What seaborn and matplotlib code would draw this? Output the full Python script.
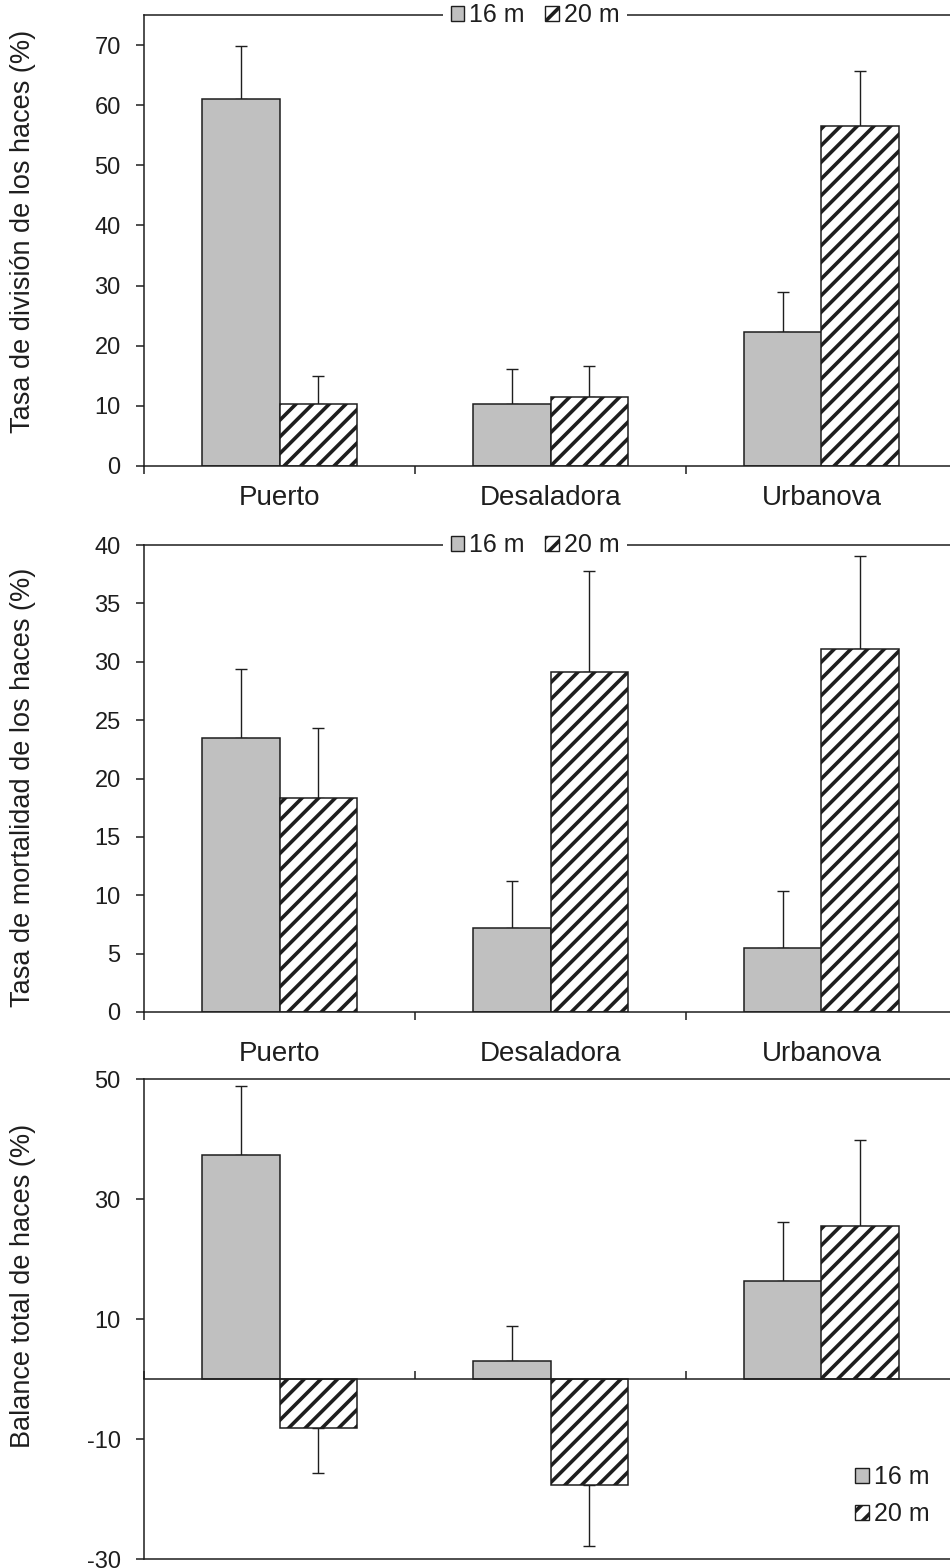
import numpy as np
import pandas as pd
import matplotlib
matplotlib.use("Agg")
import matplotlib.pyplot as plt
import seaborn as sns
from matplotlib.patches import Patch

# ---------------- data ----------------
sitios = ["Puerto", "Desaladora", "Urbanova"]
profundidades = ["16 m", "20 m"]

division_16 = [61.0, 10.3, 22.3]
division_20 = [10.3, 11.4, 56.5]
division_err_16 = [8.8, 5.8, 6.6]
division_err_20 = [4.7, 5.3, 9.2]

mortalidad_16 = [23.5, 7.2, 5.5]
mortalidad_20 = [18.3, 29.1, 31.1]
mortalidad_err_16 = [5.9, 4.0, 4.9]
mortalidad_err_20 = [6.0, 8.7, 8.0]

balance_16 = [37.3, 3.1, 16.4]
balance_20 = [-8.2, -17.6, 25.5]
balance_err_16 = [11.5, 5.8, 9.8]
balance_err_20 = [7.5, 10.3, 14.3]

ylabel_division = "Tasa de división de los haces (%)"
ylabel_mortalidad = "Tasa de mortalidad de los haces (%)"
ylabel_balance = "Balance total de haces (%)"

ticks_division = [0, 10, 20, 30, 40, 50, 60, 70]
ticks_mortalidad = [0, 5, 10, 15, 20, 25, 30, 35, 40]
ticks_balance = [-30, -10, 10, 30, 50]

# ---------------- style ----------------
sns.set_style("white")
plt.rcParams["font.family"] = ["Liberation Sans", "DejaVu Sans"]
plt.rcParams["hatch.linewidth"] = 2.6
plt.rcParams["hatch.color"] = "black"

GRAY = "#C0C0C0"
EDGE = "#1e1e1e"
TXT = "#1e1e1e"
TICKFS = 17
CATFS = 20
LABFS = 19.5
LEGFS = 18
TICKLEN = 5.8
HATCH = "//"

fig = plt.figure(figsize=(9.5, 15.68), dpi=100)
W, H = 950.0, 1568.0


def axes_px(left, right, top, bottom):
    return fig.add_axes([left / W, 1 - bottom / H, (right - left) / W, (bottom - top) / H])


def legend_handles():
    return [Patch(facecolor=GRAY, edgecolor=EDGE, linewidth=1.0),
            Patch(facecolor="white", edgecolor=EDGE, hatch=HATCH, linewidth=1.0)]


def panel(ax, v16, v20, e16, e20, ylabel, ylim, yticks, label_y):
    df = pd.DataFrame({
        "sitio": sitios * 2,
        "prof": [profundidades[0]] * len(sitios) + [profundidades[1]] * len(sitios),
        "valor": list(v16) + list(v20),
    })
    sns.barplot(data=df, x="sitio", y="valor", hue="prof", order=sitios,
                hue_order=profundidades, palette=[GRAY, "white"], saturation=1,
                width=0.575, edgecolor=EDGE, linewidth=1.1, errorbar=None,
                legend=False, ax=ax, zorder=2)
    for b in ax.containers[1]:
        b.set_hatch(HATCH)
    for cont, errs in zip(ax.containers, [e16, e20]):
        xs = [b.get_x() + b.get_width() / 2 for b in cont]
        hs = [b.get_height() for b in cont]
        lower = [e if v < 0 else 0 for v, e in zip(hs, errs)]
        upper = [e if v >= 0 else 0 for v, e in zip(hs, errs)]
        ax.errorbar(xs, hs, yerr=[lower, upper], fmt="none", ecolor=EDGE,
                    elinewidth=1.0, capsize=4, capthick=1.0, zorder=1)
    ax.set_xlim(-0.5, 2.5)
    ax.set_ylim(*ylim)
    ax.set_yticks(yticks)
    ax.set_yticklabels([str(t) for t in yticks])
    ax.set_xticks([-0.5, 0.5, 1.5, 2.5])
    ax.set_xticklabels([])
    ax.set_xticks([0, 1, 2], minor=True)
    ax.set_xlabel("")
    ax.set_ylabel(ylabel, fontsize=LABFS, color=TXT)
    ax.yaxis.set_label_coords(-0.133, label_y)
    ax.tick_params(axis="y", direction="out", length=TICKLEN, width=1.1,
                   color=EDGE, labelsize=TICKFS, labelcolor=TXT, pad=11, left=True)
    for s in ["left", "top", "bottom"]:
        ax.spines[s].set_color(EDGE)
        ax.spines[s].set_linewidth(1.1)
    ax.spines["right"].set_visible(False)
    ax.grid(False)


def top_legend(ax):
    ax.legend(legend_handles(), profundidades, loc="center", bbox_to_anchor=(0.481, 1.0),
              ncol=2, frameon=True, facecolor="white", edgecolor="none", framealpha=1,
              fancybox=False, handlelength=0.55, handleheight=0.55, handletextpad=0.2,
              columnspacing=0.8, borderpad=0.3, fontsize=LEGFS, labelcolor=TXT)


# ---------- panel 1 ----------
ax1 = axes_px(144, 957, 15, 466)
panel(ax1, division_16, division_20, division_err_16, division_err_20,
      ylabel_division, (0, 75), ticks_division, 0.52)
ax1.set_xticklabels(sitios, minor=True, fontsize=CATFS, color=TXT)
ax1.tick_params(axis="x", which="major", direction="out", length=TICKLEN, width=1.1,
                color=EDGE, bottom=True)
ax1.tick_params(axis="x", which="minor", length=0, pad=14, bottom=True)
top_legend(ax1)

# ---------- panel 2 ----------
ax2 = axes_px(144, 957, 545, 1012)
panel(ax2, mortalidad_16, mortalidad_20, mortalidad_err_16, mortalidad_err_20,
      ylabel_mortalidad, (0, 40), ticks_mortalidad, 0.48)
ax2.set_xticklabels(sitios, minor=True, fontsize=CATFS, color=TXT)
ax2.tick_params(axis="x", which="major", direction="out", length=TICKLEN, width=1.1,
                color=EDGE, bottom=True)
ax2.tick_params(axis="x", which="minor", length=0, pad=21, bottom=True)
top_legend(ax2)

# ---------- panel 3 ----------
ax3 = axes_px(144, 957, 1079.3, 1559)
panel(ax3, balance_16, balance_20, balance_err_16, balance_err_20,
      ylabel_balance, (-30, 50), ticks_balance, 0.57)
ax3.spines["bottom"].set_position(("data", 0))
ax3.tick_params(axis="x", which="major", direction="in", length=TICKLEN, width=1.1,
                color=EDGE, bottom=True)
ax3.tick_params(axis="x", which="minor", length=0, bottom=True)
ax3.axhline(ax3.get_ylim()[0], color=EDGE, linewidth=1.1, clip_on=False, zorder=3)
ax3.legend(legend_handles(), profundidades, loc="lower right", bbox_to_anchor=(0.994, 0.022),
           ncol=1, frameon=False, handlelength=0.55, handleheight=0.55, handletextpad=0.2,
           labelspacing=0.5, fontsize=LEGFS, labelcolor=TXT)

fig.savefig("out.png", dpi=100)
